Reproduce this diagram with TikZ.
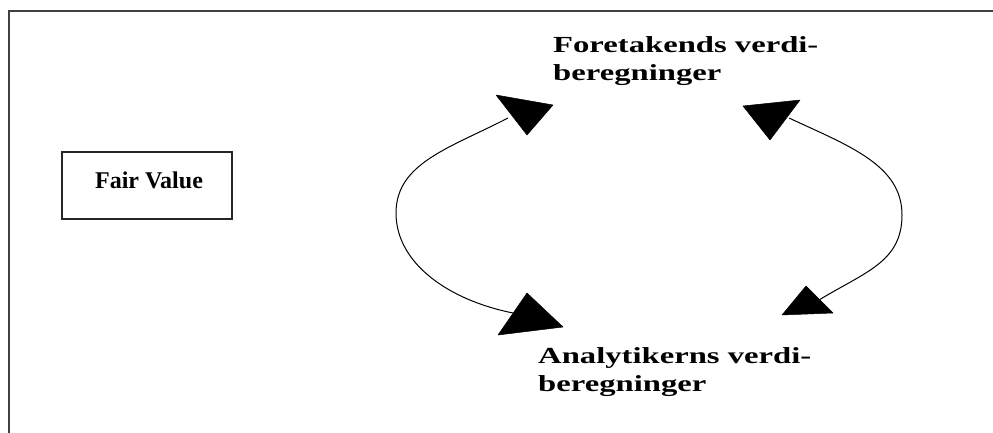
\documentclass[tikz,border=0pt]{standalone}
\usepackage{fontspec}
\setmainfont{Liberation Serif}
\newfontfamily\widefont{Liberation Serif}[FakeStretch=1.42]
\begin{document}
\begin{tikzpicture}[x=1pt,y=-1pt,
  frameline/.style={draw=black!75,line width=2pt},
  fvbox/.style={draw=black!85,line width=1.5pt,minimum width=170pt,minimum height=67pt,inner sep=0pt},
  fvtext/.style={font=\fontsize{24}{28}\selectfont\bfseries,anchor=base,inner sep=0pt},
  lbl/.style={font=\widefont\fontsize{23}{28}\selectfont\bfseries,anchor=base west,inner sep=0pt},
  arc/.style={draw=black,line width=1pt},
  head/.style={fill=black,draw=black,line width=0.5pt,line join=round}]
\useasboundingbox (0,0) rectangle (993,433);
\fill[white] (0,0) rectangle (993,433);
% outer frame (top and left sides visible)
\coordinate (fbl) at (9,433);
\coordinate (ftl) at (9,11);
\coordinate (ftr) at (993,11);
\draw[frameline] (fbl) -- (ftl) -- (ftr);
% Fair Value box
\node[fvbox] (fv) at (147,185.5) {};
\node[fvtext] (fvt) at (149,188) {Fair Value};
% labels
\node[lbl] (f1) at (553,53) {Foretakends verdi-};
\node[lbl] (f2) at (553,81) {beregninger};
\node[lbl] (a1) at (538,363) {Analytikerns verdi-};
\node[lbl] (a2) at (538,391) {beregninger};
% curve end points
\coordinate (b1) at (508,118);
\coordinate (lm) at (396,213);
\coordinate (b2) at (513,313);
\coordinate (b3) at (789,118);
\coordinate (rm) at (902,215);
\coordinate (b4) at (819,300);
% left arc
\draw[arc] (b1) .. controls (450,148) and (396,163) .. (lm)
               .. controls (396,263) and (448,300) .. (b2);
% right arc
\draw[arc] (b3) .. controls (849,146) and (902,165) .. (rm)
               .. controls (902,262) and (865,272) .. (b4);
% arrowheads
\fill[head] (496,95) -- (553,105) -- (527,135) -- cycle;
\fill[head] (527,293) -- (563,327) -- (498,335) -- cycle;
\fill[head] (743,106) -- (800,100) -- (770,140) -- cycle;
\fill[head] (806,286) -- (833,313) -- (782,315) -- cycle;
\end{tikzpicture}
\end{document}
